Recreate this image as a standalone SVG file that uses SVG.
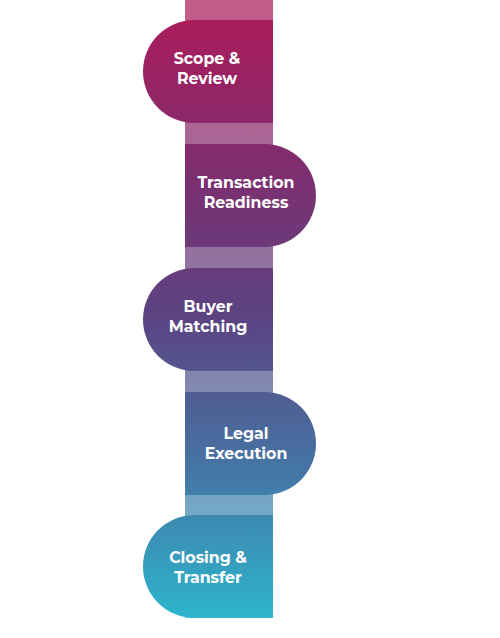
<svg xmlns="http://www.w3.org/2000/svg" width="500" height="638" viewBox="0 0 500 638">
  <defs>
    <linearGradient id="g" gradientUnits="userSpaceOnUse" x1="0" y1="20" x2="0" y2="618">
      <stop offset="0" stop-color="#aa1c5c"/>
      <stop offset="0.25" stop-color="#7e2e6f"/>
      <stop offset="0.5" stop-color="#5b4483"/>
      <stop offset="0.75" stop-color="#4575a4"/>
      <stop offset="1" stop-color="#2db5cd"/>
    </linearGradient>
    <style>
      .node { fill: url(#g); }
      .strip { fill: url(#g); opacity: 0.72; }
      .lbl { font-family: "Montserrat", "Open Sans", "Liberation Sans", sans-serif; font-weight: 700; font-size: 15.8px; fill: #ffffff; text-anchor: middle; }
    </style>
  </defs>
  <rect width="500" height="638" fill="#ffffff"/>
  <g id="connectors">
    <rect class="strip" x="185" y="0" width="88" height="618"/>
  </g>
  <g id="node-scope">
    <path class="node" d="M273,20 H194.5 A51.5,51.5 0 0 0 194.5,123 H273 Z"/>
    <text class="lbl" x="207" y="64">Scope &amp;</text>
    <text class="lbl" x="207" y="84">Review</text>
  </g>
  <g id="node-readiness">
    <path class="node" d="M185,144 H264.5 A51.5,51.5 0 0 1 264.5,247 H185 Z"/>
    <text class="lbl" x="246" y="188">Transaction</text>
    <text class="lbl" x="246" y="208">Readiness</text>
  </g>
  <g id="node-buyer">
    <path class="node" d="M273,268 H194.5 A51.5,51.5 0 0 0 194.5,371 H273 Z"/>
    <text class="lbl" x="208" y="312">Buyer</text>
    <text class="lbl" x="208" y="332">Matching</text>
  </g>
  <g id="node-legal">
    <path class="node" d="M185,392 H264.5 A51.5,51.5 0 0 1 264.5,495 H185 Z"/>
    <text class="lbl" x="246" y="439">Legal</text>
    <text class="lbl" x="246" y="459">Execution</text>
  </g>
  <g id="node-closing">
    <path class="node" d="M273,515 H194.5 A51.5,51.5 0 0 0 194.5,618 H273 Z"/>
    <text class="lbl" x="208" y="563">Closing &amp;</text>
    <text class="lbl" x="208" y="583">Transfer</text>
  </g>
</svg>
